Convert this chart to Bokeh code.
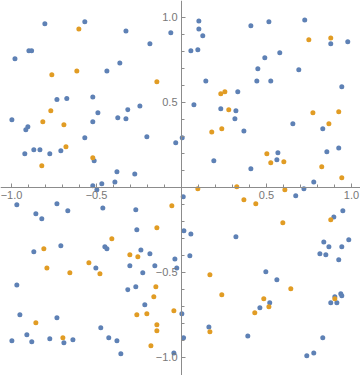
from bokeh.plotting import figure
from bokeh.models import FixedTicker, CustomJSTickFormatter, Range1d
from bokeh.embed import file_html
from bokeh.resources import INLINE

blue_x = [-0.804, -0.569, -0.327, -0.063, -0.186, -0.898, -0.882, -0.980, -0.363, -0.439,
          -0.733, -0.675, -0.522, -0.492, -0.316, -0.245, -0.375, -0.327, -0.998, -0.522,
          -0.904, -0.916, -0.569, -0.204, -0.034, 0.004, -0.869, -0.833, -0.922, -0.775,
          -0.710, -0.514, -0.380, -0.275, -0.392, -0.469, -0.522, -0.498,
          0.102, 0.102, 0.125, 0.055, 0.096, 0.408, 0.514, 0.725, 0.878, 0.978,
          0.490, 0.578, 0.449, 0.690, 0.143, 0.443, 0.525, 0.943, 0.331, 0.073,
          0.231, 0.320, 0.314, 0.655, 0.831, 0.367, 0.567, 0.561, 0.855, 0.925,
          0.190, 0.408, 0.778, 0.720, 0.672, 0.010,
          0.949, 0.896, 0.014, 0.055, 0.320, 0.984, 0.837, 0.867, 0.943, 0.814,
          0.849, 0.049, 0.925, 0.496, 0.561, 0.519, 0.461, 0.937, 0.943, 0.902,
          0.878, 0.914, 0.002, 0.161, 0.390, 0.012, 0.831, 0.737, 0.778,
          -0.969, -0.733, -0.669, -0.857, -0.822, -0.463, -0.269, -0.263, -0.710, -0.451,
          -0.439, -0.869, -0.239, -0.186, -0.039, -0.304, -0.157, -0.028, -0.504, -0.228,
          -0.969, -0.269, -0.316, -0.216, -0.951, -0.733, -0.475, -0.910, -0.775, -0.428,
          -0.998, -0.881, -0.692, -0.639, -0.380, -0.357, -0.045]
blue_y = [0.963, 0.975, 0.921, 0.910, 0.845, 0.804, 0.804, 0.757, 0.733, 0.686,
          0.518, 0.524, 0.533, 0.439, 0.457, 0.480, 0.410, 0.404, 0.398, 0.386,
          0.357, 0.339, 0.292, 0.298, 0.263, 0.292, 0.222, 0.222, 0.198, 0.198,
          0.216, 0.157, 0.092, 0.080, 0.033, 0.022, 0.010, -0.014,
          0.980, 0.933, 0.892, 0.804, 0.810, 0.951, 0.975, 0.986, 0.845, 0.857,
          0.763, 0.792, 0.698, 0.692, 0.627, 0.627, 0.627, 0.592, 0.563, 0.486,
          0.463, 0.451, 0.404, 0.375, 0.345, 0.333, 0.204, 0.163, 0.210, 0.233,
          0.157, 0.110, 0.033, -0.008, -0.049, -0.055,
          -0.137, -0.173, -0.255, -0.273, -0.290, -0.308, -0.320, -0.349, -0.349, -0.390,
          -0.396, -0.402, -0.425, -0.496, -0.543, -0.678, -0.708, -0.625, -0.637, -0.643,
          -0.678, -0.678, -0.743, -0.820, -0.873, -0.884, -0.884, -0.990, -0.973,
          -0.102, -0.096, -0.137, -0.155, -0.184, -0.120, -0.131, -0.249, -0.343, -0.349,
          -0.361, -0.378, -0.367, -0.390, -0.420, -0.461, -0.461, -0.473, -0.473, -0.502,
          -0.573, -0.584, -0.602, -0.690, -0.749, -0.767, -0.825, -0.867, -0.890, -0.884,
          -0.902, -0.908, -0.914, -0.896, -0.902, -0.978, -0.973]

orange_x = [-0.604, -0.763, -0.616, -0.145, -0.769, -0.816, -0.692, -0.680, -0.522, -0.822,
            0.878, 0.749, 0.231, 0.255, 0.278, 0.773, 0.925, 0.867, 0.178, 0.237,
            0.502, 0.525, 0.602, 0.825, 0.943, 0.096, 0.325, 0.608, 0.367, 0.437,
            0.878, 0.596, 0.167, 0.643, 0.237, 0.484, 0.514, 0.431, 0.902, 0.167,
            -0.057, -0.145, -0.410, -0.810, -0.304, -0.257, -0.545, -0.792, -0.657, -0.480,
            -0.151, -0.163, -0.045, -0.263, -0.204, -0.857, -0.145, -0.145, -0.698, -0.180]
orange_y = [0.933, 0.663, 0.686, 0.622, 0.451, 0.386, 0.369, 0.239, 0.175, 0.128,
            0.880, 0.869, 0.551, 0.563, 0.457, 0.439, 0.445, 0.375, 0.327, 0.345,
            0.198, 0.145, 0.151, 0.122, 0.057, -0.008, 0.004, -0.014, -0.072, -0.096,
            -0.190, -0.208, -0.514, -0.596, -0.631, -0.655, -0.702, -0.737, -0.655, -0.849,
            -0.108, -0.237, -0.302, -0.361, -0.396, -0.408, -0.443, -0.473, -0.502, -0.508,
            -0.584, -0.643, -0.725, -0.749, -0.743, -0.796, -0.808, -0.843, -0.884, -0.931]

major_ticks = [-1.0, -0.5, 0.5, 1.0]
minor_ticks = [-1.0, -0.9, -0.8, -0.7, -0.6, -0.5, -0.4, -0.3, -0.2, -0.1,
               0.1, 0.2, 0.3, 0.4, 0.5, 0.6, 0.7, 0.8, 0.9, 1.0]

p = figure(width=360, height=375, output_backend="svg", toolbar_location=None,
           x_range=Range1d(-1.065, 1.053), y_range=Range1d(-1.106, 1.1),
           min_border=0, outline_line_color=None)
p.grid.visible = False
p.background_fill_color = "white"

p.scatter(blue_x, blue_y, size=5, color="#5E81B5", line_color=None)
p.scatter(orange_x, orange_y, size=5, color="#E19C24", line_color=None)

fmt = CustomJSTickFormatter(code="return tick.toFixed(1).replace('-', '\u2212');")
for ax in (p.xaxis[0], p.yaxis[0]):
    ax.fixed_location = 0
    ax.ticker = FixedTicker(ticks=major_ticks, minor_ticks=minor_ticks)
    ax.formatter = fmt
    ax.axis_line_color = "#8c8c8c"
    ax.major_tick_line_color = "#8c8c8c"
    ax.minor_tick_line_color = "#8c8c8c"
    ax.major_tick_in = 4
    ax.major_tick_out = 0
    ax.minor_tick_in = 3
    ax.minor_tick_out = 0
    ax.major_label_text_color = "#777777"
    ax.major_label_text_font = "Liberation Sans"
    ax.major_label_text_font_size = "11px"
    ax.major_label_standoff = 4

out = file_html(p, INLINE)
open("out.html", "w").write(out)
